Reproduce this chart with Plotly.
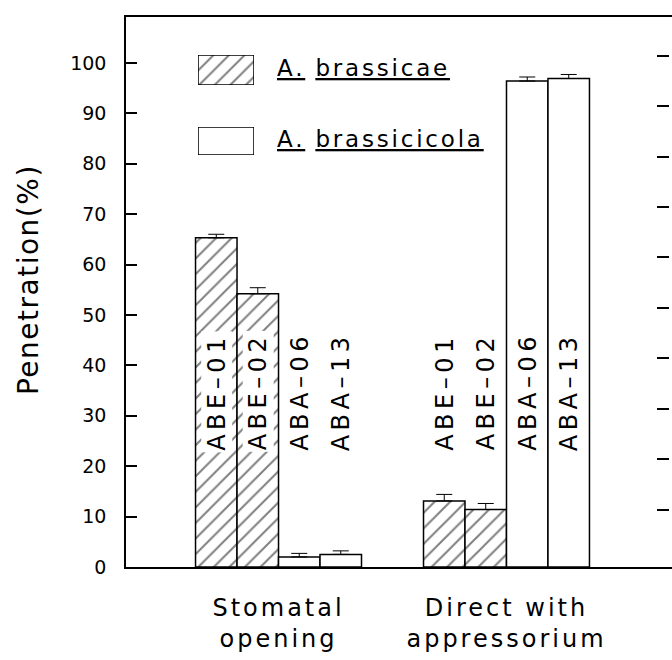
import plotly.graph_objects as go

# ---- data ----
groups = ["Stomatal opening", "Direct with appressorium"]
group_ticktext = ["Stomatal<br>opening", "Direct with<br>appressorium"]
strains = ["ABE-01", "ABE-02", "ABA-06", "ABA-13"]
strain_labels = ["ABE–01", "ABE–02", "ABA–06", "ABA–13"]
species = ["A. brassicae", "A. brassicae", "A. brassicicola", "A. brassicicola"]
values = {
    "ABE-01": [65.3, 13.1],
    "ABE-02": [54.2, 11.4],
    "ABA-06": [2.0, 96.4],
    "ABA-13": [2.5, 96.9],
}
errors = {
    "ABE-01": [0.7, 1.3],
    "ABE-02": [1.2, 1.2],
    "ABA-06": [0.7, 0.8],
    "ABA-13": [0.7, 0.8],
}
label_y = 34.8
legend_names = ["A. brassicae", "A. brassicicola"]
yticks = [0, 10, 20, 30, 40, 50, 60, 70, 80, 90, 100]

FONT = "DejaVu Sans"
BARGAP = 0.272


def spaced(t, px):
    return f'<span style="letter-spacing:{px}px">{t}</span>'


fig = go.Figure()
hatch = dict(shape="/", fgcolor="black", bgcolor="white", size=11, solidity=0.18, fillmode="overlay")

for s, sp in zip(strains, species):
    is_hatched = sp == "A. brassicae"
    fig.add_trace(go.Bar(
        x=groups, y=values[s], name=s,
        marker=dict(color="white", line=dict(color="black", width=1.5),
                    pattern=hatch if is_hatched else dict(shape="")),
        error_y=dict(type="data", symmetric=False, array=errors[s],
                     arrayminus=[0] * len(groups), color="black", thickness=1, width=8),
        showlegend=False,
    ))

# bar labels (rotated)
n = len(strains)
w = (1 - BARGAP) / n
for gi, g in enumerate(groups):
    for i, lab in enumerate(strain_labels):
        xpos = gi - (1 - BARGAP) / 2 + w * (i + 0.5)
        fig.add_annotation(x=xpos, y=label_y, xref="x", yref="y", text=spaced(lab, 4.5),
                           textangle=-90, showarrow=False, bgcolor="white", borderpad=1,
                           font=dict(family=FONT, size=24, color="black"),
                           xanchor="center", yanchor="middle")

# legend boxes via small overlay axes
leg_boxes = [([0.1319, 0.2344], [0.8764, 0.9309]), ([0.1319, 0.2344], [0.7491, 0.8000])]
for k, (name, (xd, yd)) in enumerate(zip(legend_names, leg_boxes)):
    ax = k + 2
    fig.add_trace(go.Bar(
        x=[0], y=[1], width=1, xaxis=f"x{ax}", yaxis=f"y{ax}", showlegend=False,
        marker=dict(color="white", line=dict(color="black", width=1.5),
                    pattern=hatch if k == 0 else dict(shape="")),
        hoverinfo="skip",
    ))
    fig.update_layout(**{
        f"xaxis{ax}": dict(domain=xd, anchor=f"y{ax}", range=[-0.5, 0.5], visible=False, fixedrange=True),
        f"yaxis{ax}": dict(domain=yd, anchor=f"x{ax}", range=[0, 1], visible=False, fixedrange=True),
    })
    g, sp_name = name.split(" ", 1)
    fig.add_annotation(x=0.2729, y=(yd[0] + yd[1]) / 2 + 0.004, xref="paper", yref="paper",
                       text=spaced(f"<u>{g}</u> <u>{sp_name}</u>", 2.8), showarrow=False,
                       xanchor="left", yanchor="middle",
                       font=dict(family=FONT, size=23, color="black"))

# right-side ticks
fig.add_trace(go.Scatter(x=[], y=[], yaxis="y4", showlegend=False))

fig.add_annotation(x=-0.1795, y=0.5236, xref="paper", yref="paper",
                   text=spaced("Penetration(%)", 1.5), textangle=-90, showarrow=False,
                   xanchor="center", yanchor="middle",
                   font=dict(family=FONT, size=28, color="black"))

fig.update_layout(
    width=672, height=660,
    margin=dict(l=126, r=0, t=17, b=93),
    paper_bgcolor="white", plot_bgcolor="white",
    barmode="group", bargap=BARGAP, bargroupgap=0,
    showlegend=False,
    font=dict(family=FONT, color="black"),
    xaxis=dict(type="category", range=[-0.669, 1.726], tickvals=groups,
               ticktext=[spaced(t, 3) for t in group_ticktext],
               ticks="", showline=True, mirror=True, linecolor="black", linewidth=1.5,
               showgrid=False, zeroline=False, ticklabelstandoff=18,
               tickfont=dict(family=FONT, size=24, color="black")),
    yaxis=dict(range=[0, 109.1], tickvals=yticks, ticks="inside", ticklen=11,
               tickwidth=1.5, tickcolor="black", showline=True, mirror=False,
               linecolor="black", linewidth=1.5, showgrid=False, zeroline=False,
               ticklabelstandoff=14,
               tickfont=dict(family=FONT, size=19, color="black")),
    yaxis4=dict(overlaying="y", anchor="free", position=0.9945, side="right",
                range=[-1.4, 107.7], tickvals=yticks[1:], ticks="inside", ticklen=12,
                tickwidth=1.5, tickcolor="black", showticklabels=False, showline=False,
                showgrid=False, zeroline=False),
)

fig.write_html("out.html", config={"displayModeBar": False},
               post_script="document.body.style.margin='0';document.body.style.overflow='hidden';")
